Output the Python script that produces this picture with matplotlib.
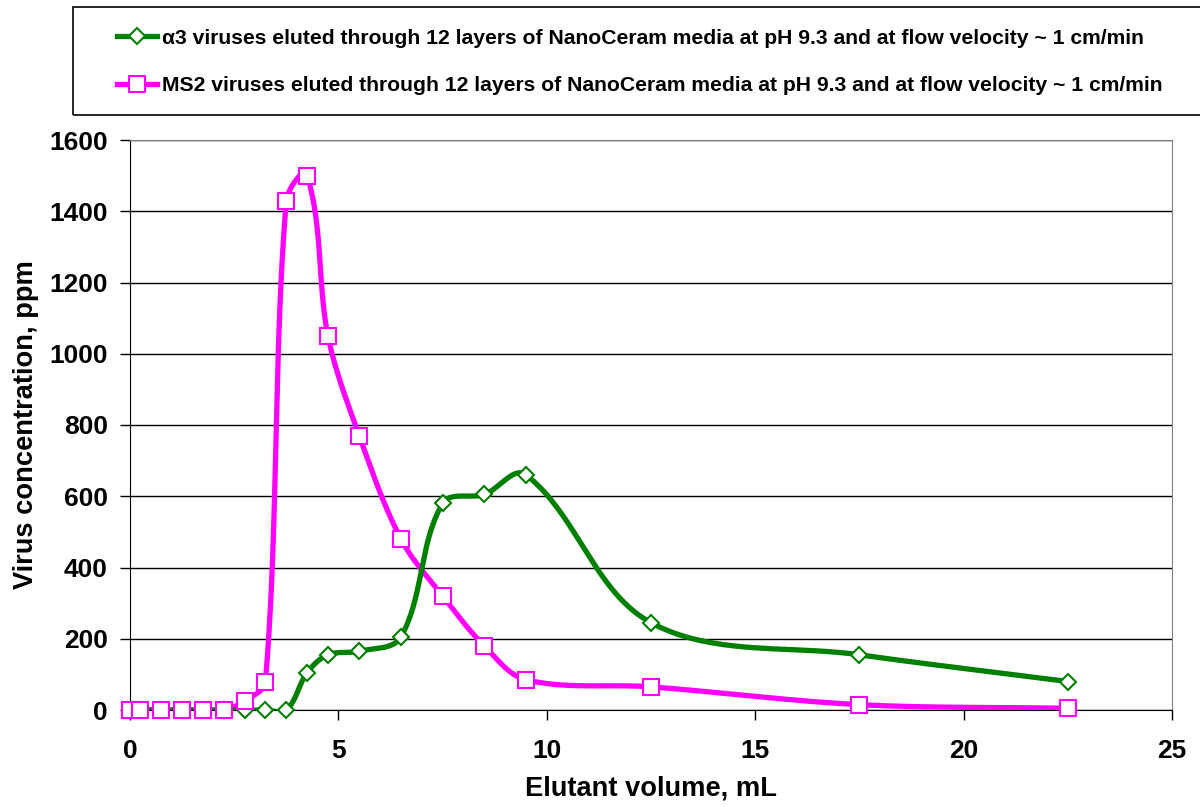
import numpy as np
import matplotlib.pyplot as plt
from matplotlib.lines import Line2D
from matplotlib.patches import Rectangle

# elutant volume, mL
vol = [0, 0.25, 0.75, 1.25, 1.75, 2.25, 2.75, 3.25, 3.75, 4.25, 4.75,
       5.5, 6.5, 7.5, 8.5, 9.5, 12.5, 17.5, 22.5]
# virus concentration, ppm
alpha3 = [0, 0, 0, 0, 0, 0, 0, 0, 0, 105, 155,
          165, 205, 580, 605, 660, 245, 155, 80]
ms2 = [0, 0, 0, 0, 0, 0, 25, 80, 1430, 1500, 1050,
       770, 480, 320, 180, 85, 65, 15, 5]

label_a3 = "α3 viruses eluted through 12 layers of NanoCeram media at pH 9.3 and at flow velocity ~ 1 cm/min"
label_ms2 = "MS2 viruses eluted through 12 layers of NanoCeram media at pH 9.3 and at flow velocity ~ 1 cm/min"

GREEN = "#008000"
PINK = "#FF00FF"

# rough pixel scale of the plot area, smoothing is done in screen-like units
SX = 1042 / 25.0
SY = 570 / 1600.0


def smooth(x, y, n=40):
    # excel-like smoothed line, tangent along neighbours, handle = 1/3 segment length
    P = np.column_stack([np.asarray(x, float) * SX, np.asarray(y, float) * SY])
    N = len(P)
    tang = np.zeros_like(P)
    for i in range(N):
        a = P[max(i - 1, 0)]
        b = P[min(i + 1, N - 1)]
        d = b - a
        L = np.hypot(*d)
        tang[i] = d / L if L > 0 else 0
    out = []
    t = np.linspace(0, 1, n)[:, None]
    for i in range(N - 1):
        p1, p2 = P[i], P[i + 1]
        L = np.hypot(*(p2 - p1))
        c1 = p1 + tang[i] * L / 3
        c2 = p2 - tang[i + 1] * L / 3
        seg = ((1 - t)**3) * p1 + 3 * ((1 - t)**2) * t * c1 + 3 * (1 - t) * t**2 * c2 + t**3 * p2
        out.append(seg if i == 0 else seg[1:])
    seg = np.vstack(out)
    return seg[:, 0] / SX, seg[:, 1] / SY


plt.rcParams['font.family'] = ['Liberation Sans', 'DejaVu Sans']
plt.rcParams['font.weight'] = 'bold'

fig = plt.figure(figsize=(12, 8.07), dpi=100)
ax = fig.add_axes([130 / 1200, 97 / 807, 1042 / 1200, 570 / 807])

sx, sy = smooth(vol, ms2)
ax.plot(sx, sy, color=PINK, lw=3.8, zorder=3, solid_capstyle='butt')
gx, gy = smooth(vol, alpha3)
ax.plot(gx, gy, color=GREEN, lw=3.8, zorder=4, solid_capstyle='butt')
ax.plot(vol, alpha3, ls='none', marker='D', ms=8.5, mfc='white', mec=GREEN, mew=1.5, zorder=5,
        clip_on=False)
ax.plot(vol, ms2, ls='none', marker='s', ms=11.5, mfc='white', mec=PINK, mew=1.5, zorder=6,
        clip_on=False)

ax.set_xlim(0, 25)
ax.set_ylim(0, 1600)
ax.set_xticks(range(0, 26, 5))
ax.set_yticks(range(0, 1601, 200))
ax.yaxis.grid(True, color='black', lw=1.0)
ax.set_axisbelow(True)
ax.tick_params(direction='out', length=7, width=1, labelsize=19)
ax.tick_params(axis='x', pad=14)
ax.tick_params(axis='y', pad=9)
for lab in ax.get_xticklabels() + ax.get_yticklabels():
    lab.set_fontweight('bold')
ax.spines['top'].set_color('#808080')
ax.spines['right'].set_color('#808080')
ax.spines['left'].set_color('black')
ax.spines['bottom'].set_color('black')

ax.set_xlabel("Elutant volume, mL", fontsize=19.6, fontweight='bold', labelpad=9)
ax.set_ylabel("Virus concentration, ppm", fontsize=19.6, fontweight='bold', labelpad=7)

# legend box, running off the right edge
fig.patches.append(Rectangle((73 / 1200, 1 - 115 / 807), 1200 / 1200, 108 / 807,
                             transform=fig.transFigure, fill=False, ec='black', lw=1.2))
handles = [Line2D([], [], color=GREEN, lw=3.8, marker='D', ms=8.5, mfc='white', mec=GREEN, mew=1.5),
           Line2D([], [], color=PINK, lw=3.8, marker='s', ms=11.5, mfc='white', mec=PINK, mew=1.5)]
fig.legend(handles, [label_a3, label_ms2], loc='center left',
           bbox_to_anchor=(98 / 1200, 1 - 62 / 807), frameon=False,
           prop={'size': 15.2, 'weight': 'bold'}, handlelength=1.9, handletextpad=0.25,
           labelspacing=1.35)

fig.savefig("out.png", dpi=100)
